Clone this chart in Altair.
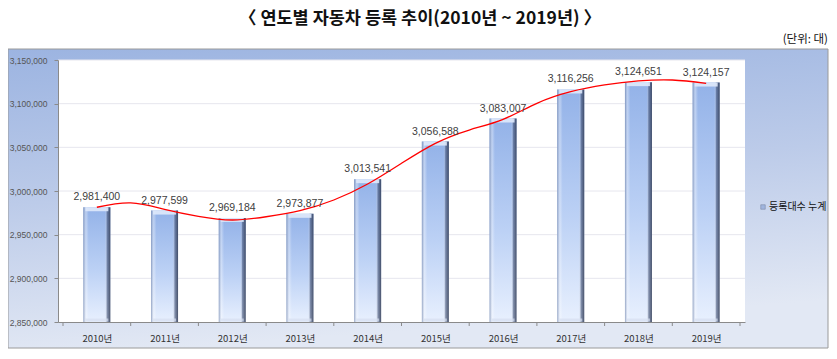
import altair as alt
import pandas as pd

# ---- data ----
years = [2010, 2011, 2012, 2013, 2014, 2015, 2016, 2017, 2018, 2019]
counts = [2981400, 2977599, 2969184, 2973877, 3013541, 3056588, 3083007, 3116256, 3124651, 3124157]
base_value = 2850000

# red trend curve as traced on the picture
trend_x = [2010, 2010.5, 2011, 2011.5, 2012, 2012.5, 2013, 2013.5, 2014, 2014.5,
           2015, 2015.5, 2016, 2016.5, 2017, 2017.5, 2018, 2018.5, 2019]
trend_y = [2981400, 2986300, 2979000, 2971000, 2966800, 2970500, 2977500, 2989700, 3008000, 3031700,
           3054600, 3069800, 3082100, 3100400, 3113700, 3121400, 3126000, 3127100, 3123300]

grid_vals = [2900000, 2950000, 3000000, 3050000, 3100000, 3150000]
y_ticks = [2850000, 2900000, 2950000, 3000000, 3050000, 3100000, 3150000]
boundaries = [2009.5, 2010.5, 2011.5, 2012.5, 2013.5, 2014.5, 2015.5, 2016.5, 2017.5, 2018.5, 2019.5]

title_text = "〈 연도별 자동차 등록 추이(2010년 ~ 2019년) 〉"
unit_text = "(단위:  대)"
legend_text = "등록대수 누계"

W, H = 687, 262

df = pd.DataFrame({"year": years, "count": counts})
trend = pd.DataFrame({"year": trend_x, "count": trend_y})
grid = pd.DataFrame({"count": grid_vals})
bnd = pd.DataFrame({"year": boundaries})
one = pd.DataFrame({"a": [0]})

xs = alt.Scale(domain=[2009.5, 2019.5], nice=False, zero=False)
ys = alt.Scale(domain=[2850000, 3150000], nice=False, zero=False)

bg = alt.Chart(one).mark_rect(
    fill=alt.LinearGradient(gradient="linear", x1=0.001, y1=0.001, x2=0.2, y2=1, stops=[
        alt.GradientStop(color="#9cb4e1", offset=0),
        alt.GradientStop(color="#bccbe9", offset=0.5),
        alt.GradientStop(color="#e2e8f4", offset=1)]),
    stroke="#9a9a9a", strokeWidth=1
).encode(x=alt.value(-50), x2=alt.value(770), y=alt.value(-11), y2=alt.value(288))

plot_bg = alt.Chart(one).mark_rect(fill="white").encode(
    x=alt.value(0), x2=alt.value(W), y=alt.value(0), y2=alt.value(H))

grid_l = alt.Chart(grid).mark_rule(color="#e6e6ee", strokeWidth=1).encode(
    y=alt.Y("count:Q", scale=ys), x=alt.value(0), x2=alt.value(W))

bars = alt.Chart(df).mark_bar(
    size=27,
    fill=alt.LinearGradient(gradient="linear", x1=0.5, y1=0.001, x2=0.5, y2=1, stops=[
        alt.GradientStop(color="#93b2e8", offset=0),
        alt.GradientStop(color="#bcd1f5", offset=0.55),
        alt.GradientStop(color="#e8f0fe", offset=1)])
).encode(
    x=alt.X("year:Q", scale=xs,
            axis=alt.Axis(values=years, labelExpr="datum.value + '년'", title=None,
                          ticks=False, grid=False, domainColor="#8a8a8a",
                          labelPadding=11, labelFontSize=9.5, labelColor="#333333",
                          labelFont="Noto Sans CJK KR", zindex=1)),
    y=alt.Y("count:Q", scale=ys,
            axis=alt.Axis(values=y_ticks, format=",d", title=None, grid=False,
                          domainColor="#8a8a8a", tickColor="#8a8a8a", tickSize=4,
                          labelPadding=7, labelFontSize=8.5, labelColor="#555555",
                          labelFont="Liberation Sans", zindex=1)),
    y2=alt.datum(base_value),
)

shade = alt.Chart(df).mark_bar(
    size=27,
    fill=alt.LinearGradient(gradient="linear", x1=0.001, y1=0.5, x2=1, y2=0.5, stops=[
        alt.GradientStop(color="rgba(110,130,170,0.7)", offset=0),
        alt.GradientStop(color="rgba(255,255,255,0.35)", offset=0.1),
        alt.GradientStop(color="rgba(255,255,255,0)", offset=0.2),
        alt.GradientStop(color="rgba(255,255,255,0)", offset=0.8),
        alt.GradientStop(color="rgba(70,85,120,0.6)", offset=0.88),
        alt.GradientStop(color="rgba(45,55,80,0.85)", offset=1)])
).encode(x=alt.X("year:Q", scale=xs), y=alt.Y("count:Q", scale=ys), y2=alt.datum(base_value))

bevel = alt.Chart(df).mark_tick(orient="horizontal", size=23, thickness=4, yOffset=2,
                                color="#dfe9fb", opacity=0.9).encode(
    x=alt.X("year:Q", scale=xs), y=alt.Y("count:Q", scale=ys))

bottom = alt.Chart(df).mark_tick(orient="horizontal", size=23, thickness=3, yOffset=-2,
                                 color="#d5def0").encode(
    x=alt.X("year:Q", scale=xs), y=alt.value(H))

line = alt.Chart(trend).mark_line(color="#ff0000", strokeWidth=1.3, interpolate="natural").encode(
    x=alt.X("year:Q", scale=xs), y=alt.Y("count:Q", scale=ys))

labels = alt.Chart(df).mark_text(dy=-7, baseline="alphabetic", fontSize=10.5,
                                 font="Liberation Sans", color="#404040").encode(
    x=alt.X("year:Q", scale=xs), y=alt.Y("count:Q", scale=ys),
    text=alt.Text("count:Q", format=",d"))

xt = alt.Chart(bnd).mark_rule(color="#8a8a8a").encode(
    x=alt.X("year:Q", scale=xs), y=alt.value(H), y2=alt.value(H + 4))

leg_sq = alt.Chart(one).mark_square(size=20, fill="#8fa8d8", stroke="#5a6a8a", strokeWidth=0.6).encode(
    x=alt.value(705), y=alt.value(147))
leg_tx = alt.Chart(one).mark_text(align="left", baseline="middle", fontSize=10,
                                  font="Noto Sans CJK KR", color="#111111").encode(
    x=alt.value(711), y=alt.value(147), text=alt.value(legend_text))

title = alt.Chart(one).mark_text(align="center", baseline="middle", fontSize=17.5, fontWeight="bold",
                                 font="Noto Sans CJK KR", color="#111111").encode(
    x=alt.value(362), y=alt.value(-41), text=alt.value(title_text))
unit = alt.Chart(one).mark_text(align="right", baseline="middle", fontSize=11.5,
                                font="Noto Sans CJK KR", color="#111111").encode(
    x=alt.value(770), y=alt.value(-20), text=alt.value(unit_text))

chart = alt.layer(bg, plot_bg, grid_l, bars, shade, bevel, bottom, line, labels, xt,
                  leg_sq, leg_tx, title, unit).properties(
    width=W, height=H, autosize="none",
    padding={"left": 50, "top": 52, "right": 84, "bottom": 27},
).configure_view(stroke=None)

chart.save("out.html", embed_options={"renderer": "svg", "actions": False})
